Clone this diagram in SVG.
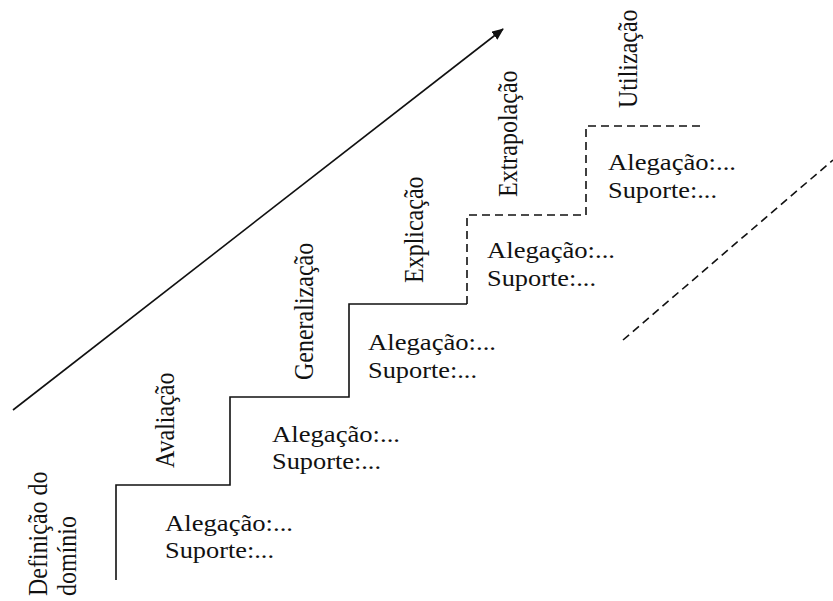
<svg xmlns="http://www.w3.org/2000/svg" width="833" height="601" viewBox="0 0 833 601">
<defs>
<style>
text{font-family:"Liberation Serif","Times New Roman",serif;font-size:24px;fill:#111}
.ln{fill:none;stroke:#111;stroke-width:1.6}
.dash{stroke-dasharray:8 5}
</style>
<marker id="ah" markerWidth="12" markerHeight="10" refX="11" refY="5" orient="auto" markerUnits="userSpaceOnUse">
<path d="M0,0 L12,5 L0,10 Z" fill="#111"/>
</marker>
</defs>
<rect width="833" height="601" fill="#fff"/>
<g id="connectors">
<line class="ln" x1="13" y1="410" x2="503" y2="29" marker-end="url(#ah)"/>
<path class="ln" d="M116,580 V485 H230 V397 H349 V304 H467"/>
<path class="ln dash" d="M467,304 V215 H586 V126 H705"/>
<line class="ln dash" x1="623" y1="340" x2="833" y2="160"/>
</g>
<g id="step-definicao">
<text transform="translate(47,596) rotate(-90) scale(1,1.1)">Definição do</text>
<text transform="translate(76,596) rotate(-90) scale(1,1.1)">domínio</text>
<text x="165" y="531" textLength="128" lengthAdjust="spacingAndGlyphs">Alegação:...</text>
<text x="165" y="558" textLength="109" lengthAdjust="spacingAndGlyphs">Suporte:...</text>
</g>
<g id="step-avaliacao">
<text transform="translate(174,468) rotate(-90) scale(1,1.1)">Avaliação</text>
<text x="272" y="442" textLength="128" lengthAdjust="spacingAndGlyphs">Alegação:...</text>
<text x="272" y="469" textLength="109" lengthAdjust="spacingAndGlyphs">Suporte:...</text>
</g>
<g id="step-generalizacao">
<text transform="translate(313,380) rotate(-90) scale(1,1.1)">Generalização</text>
<text x="368" y="350" textLength="128" lengthAdjust="spacingAndGlyphs">Alegação:...</text>
<text x="368" y="378" textLength="109" lengthAdjust="spacingAndGlyphs">Suporte:...</text>
</g>
<g id="step-explicacao">
<text transform="translate(423,283) rotate(-90) scale(1,1.1)">Explicação</text>
<text x="487" y="258" textLength="128" lengthAdjust="spacingAndGlyphs">Alegação:...</text>
<text x="487" y="286" textLength="109" lengthAdjust="spacingAndGlyphs">Suporte:...</text>
</g>
<g id="step-extrapolacao">
<text transform="translate(517,197) rotate(-90) scale(1,1.1)">Extrapolação</text>
<text x="608" y="170" textLength="128" lengthAdjust="spacingAndGlyphs">Alegação:...</text>
<text x="608" y="198" textLength="109" lengthAdjust="spacingAndGlyphs">Suporte:...</text>
</g>
<g id="step-utilizacao">
<text transform="translate(637,108) rotate(-90) scale(1,1.1)">Utilização</text>
</g>
</svg>
